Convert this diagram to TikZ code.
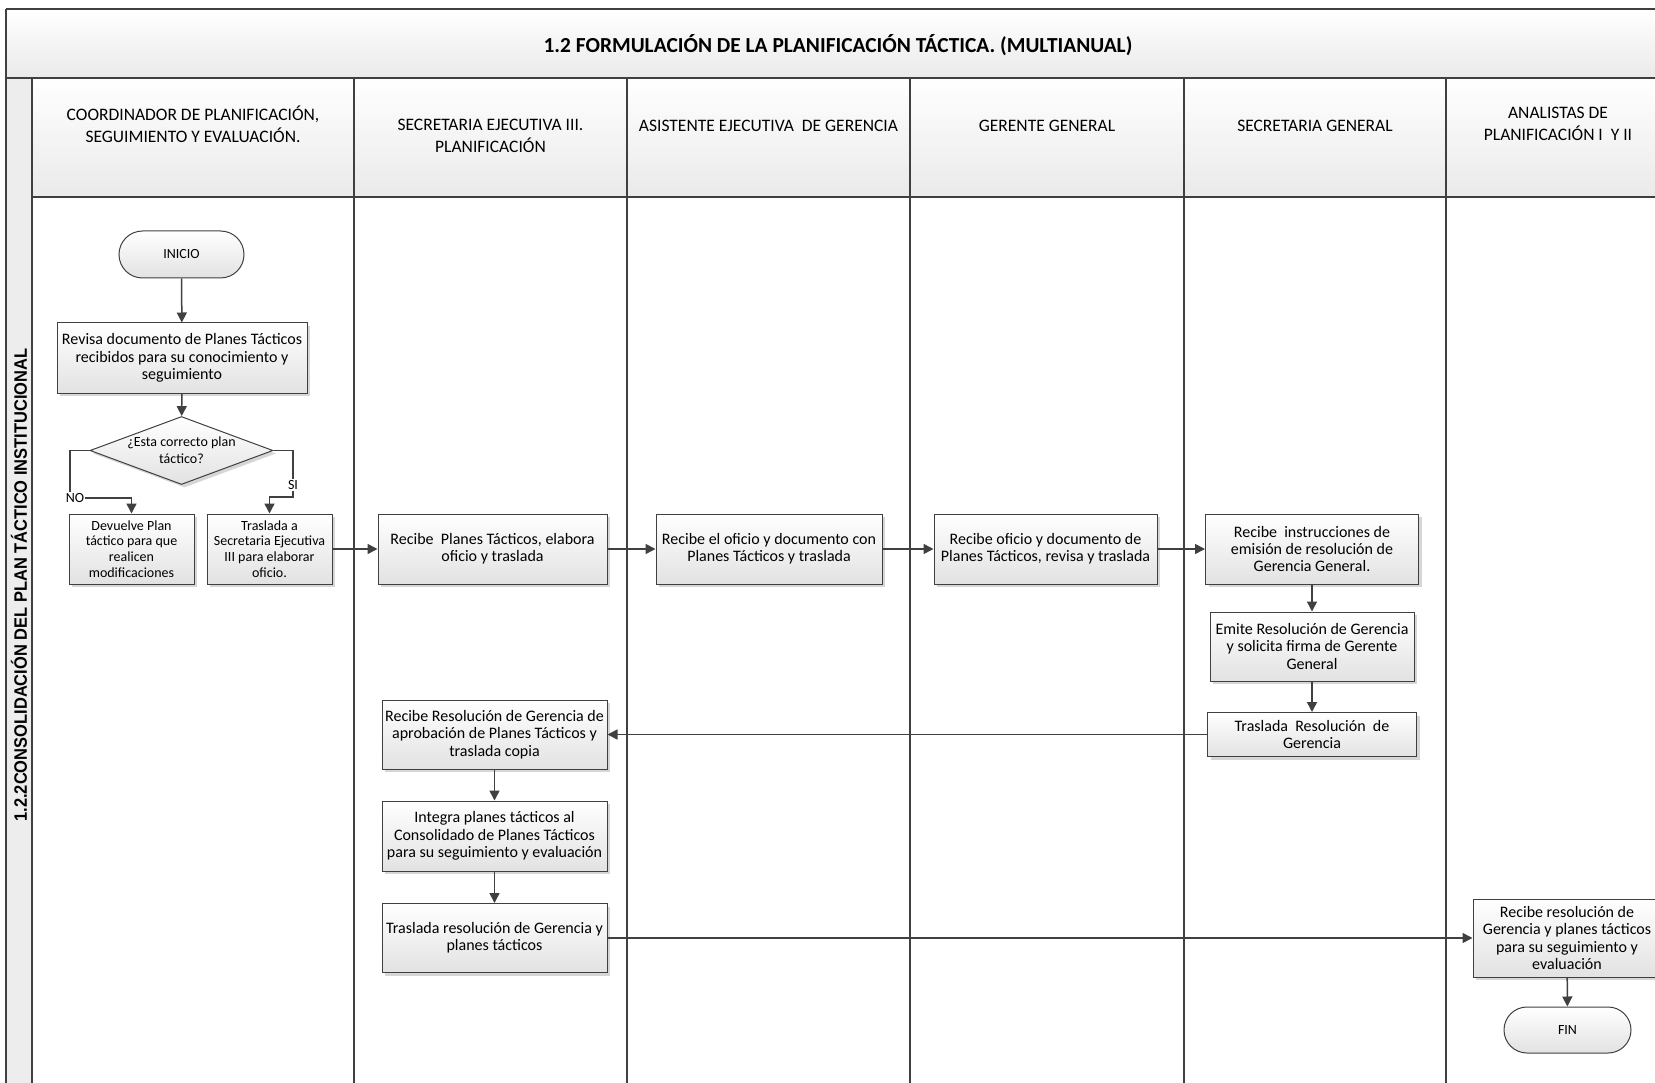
\documentclass[tikz,border=0pt]{standalone}
\usepackage{fontspec}
\usepackage{graphicx}
\setmainfont{Carlito}
\newfontfamily\vfont{Liberation Sans}
\usetikzlibrary{arrows.meta,shapes.geometric,shapes.misc,shadows}
\definecolor{linec}{HTML}{404040}
\definecolor{boxb}{HTML}{E2E2E2}
\definecolor{hdrb}{HTML}{EAEAEA}
\begin{document}
\begin{tikzpicture}[x=1pt,y=-1pt,
  lane/.style={draw=linec, line width=1.3pt},
  proc/.style={draw=linec, line width=1pt, top color=white, bottom color=boxb,
    drop shadow={fill=black!35, opacity=0.45, shadow xshift=3pt, shadow yshift=-3pt},
    align=center, inner sep=1pt, text=black},
  big/.style={font=\fontsize{16}{17.4}\selectfont},
  small/.style={font=\fontsize{14}{15.7}\selectfont},
  term/.style={rounded rectangle, draw=linec, line width=1pt, top color=white, bottom color=boxb,
    font=\fontsize{14}{16}\selectfont, minimum width=125pt, minimum height=47pt, inner sep=0pt},
  decis/.style={diamond, draw=linec, line width=1pt, top color=white, bottom color=boxb,
    drop shadow={fill=black!35, opacity=0.45, shadow xshift=3pt, shadow yshift=-3pt},
    minimum width=183pt, minimum height=68pt, inner sep=0pt},
  arr/.style={draw=linec, line width=1.5pt, -{Triangle[length=10pt,width=10pt]}},
  hdr/.style={align=center, font=\fontsize{17.5}{22}\selectfont},
  lbl/.style={fill=white, inner sep=1pt, font=\fontsize{14}{16}\selectfont}
]
\useasboundingbox (0,0) rectangle (1655,1083);
\clip (0,0) rectangle (1655,1083);
\fill[white] (0,0) rectangle (1655,1083);
% title band
\shade[top color=white, bottom color=hdrb] (6,9) rectangle (1680,78);
% left strip
\fill[hdrb!85!white] (6,78) rectangle (32,1100);
% header band
\shade[top color=white, bottom color=hdrb] (32,78) rectangle (1680,197);
\draw[lane] (6,9) -- (1680,9);
\draw[lane] (6,9) -- (6,1100);
\draw[lane] (6,78) -- (1680,78);
\draw[lane] (32,197) -- (1680,197);
\foreach \x in {32,354,627,910,1184,1446} \draw[lane] (\x,78) -- (\x,1100);

\node[font=\fontsize{21.4}{24}\selectfont\bfseries] (title) at (838,45)
  {1.2 FORMULACIÓN DE LA PLANIFICACIÓN TÁCTICA. (MULTIANUAL)};
\node[rotate=90, font=\vfont\bfseries\fontsize{18}{20}\selectfont] (vt) at (19,585)
  {\scalebox{0.915}[1]{1.2.2CONSOLIDACIÓN DEL PLAN TÁCTICO INSTITUCIONAL}};

\node[hdr] (h1) at (193,124) {COORDINADOR DE PLANIFICACIÓN,\\SEGUIMIENTO Y EVALUACIÓN.};
\node[hdr] (h2) at (490.5,135.6) {SECRETARIA EJECUTIVA III.\\PLANIFICACIÓN};
\node[hdr] (h3) at (768.5,125.6) {ASISTENTE EJECUTIVA\ \ DE GERENCIA};
\node[hdr] (h4) at (1047,125.6) {GERENTE GENERAL};
\node[hdr] (h5) at (1315,125.6) {SECRETARIA GENERAL};
\node[hdr] (h6) at (1558,124) {ANALISTAS DE\\PLANIFICACIÓN I\ \ Y II};

% lane 1
\node[term] (inicio) at (181.5,254.5) {INICIO};
\node[proc,big,minimum width=250pt,minimum height=70pt] (revisa) at (182,358)
  {Revisa documento de Planes Tácticos\\recibidos para su conocimiento y\\seguimiento};
\node[decis] (dec) at (181.5,450.5) {};
\node[align=center, font=\fontsize{14}{17}\selectfont] (dect) at (181.5,450.5) {¿Esta correcto plan\\táctico?};
\node[proc,small,minimum width=125pt,minimum height=70pt] (devuelve) at (131.5,549)
  {Devuelve Plan\\táctico para que\\realicen\\modificaciones};
\node[proc,small,minimum width=125pt,minimum height=70pt] (trasa) at (269.5,549)
  {Traslada a\\Secretaria Ejecutiva\\III para elaborar\\oficio.};

% lane 2
\node[proc,big,minimum width=229pt,minimum height=70pt] (recp) at (492.5,549)
  {Recibe\ \ Planes Tácticos, elabora\\oficio y traslada};
\node[proc,big,minimum width=225pt,minimum height=69pt] (recres) at (494.5,734.5)
  {Recibe Resolución de Gerencia de\\aprobación de Planes Tácticos y\\traslada copia};
\node[proc,big,minimum width=225pt,minimum height=70pt] (integra) at (494.5,836)
  {Integra planes tácticos al\\Consolidado de Planes Tácticos\\para su seguimiento y evaluación};
\node[proc,big,minimum width=225pt,minimum height=69pt] (trasfin) at (494.5,938)
  {Traslada resolución de Gerencia y\\planes tácticos};

% lane 3
\node[proc,big,minimum width=226pt,minimum height=70pt] (recof) at (769,549)
  {Recibe el oficio y documento con\\Planes Tácticos y traslada};
% lane 4
\node[proc,big,minimum width=223pt,minimum height=70pt] (recdoc) at (1045.5,549)
  {Recibe oficio y documento de\\Planes Tácticos, revisa y traslada};
% lane 5
\node[proc,big,minimum width=213pt,minimum height=70pt] (recinst) at (1312,549)
  {Recibe\ \ instrucciones de\\emisión de resolución de\\Gerencia General.};
\node[proc,big,minimum width=204pt,minimum height=69pt] (emite) at (1312,646.5)
  {Emite Resolución de Gerencia\\y solicita firma de Gerente\\General};
\node[proc,big,minimum width=209pt,minimum height=44pt] (trasres) at (1312,734.5)
  {Traslada\ \ Resolución\ \ de\\Gerencia};
% lane 6
\node[proc,big,minimum width=188pt,minimum height=78pt] (anrec) at (1567,938)
  {Recibe resolución de\\Gerencia y planes tácticos\\para su seguimiento y\\evaluación};
\node[term,minimum width=127pt,minimum height=46pt] (fin) at (1567.5,1030) {FIN};

% connectors
\draw[arr] (inicio) -- (revisa);
\draw[arr] (revisa) -- (dec);
\coordinate (noc) at (70,498);
\coordinate (sic) at (293,497);
\draw[arr] (dec.west) -| (noc) -| (devuelve.north);
\node[lbl] (nolbl) at (75,498) {NO};
\draw[arr] (dec.east) -| (sic) -| (trasa.north);
\node[lbl] (silbl) at (293,485) {SI};
\draw[arr] (trasa) -- (recp);
\draw[arr] (recp) -- (recof);
\draw[arr] (recof) -- (recdoc);
\draw[arr] (recdoc) -- (recinst);
\draw[arr] (recinst) -- (emite);
\draw[arr] (emite) -- (trasres);
\draw[arr] (trasres) -- (recres);
\draw[arr] (recres) -- (integra);
\draw[arr] (integra) -- (trasfin);
\draw[arr] (trasfin) -- (anrec);
\draw[arr] (anrec) -- (fin);
\end{tikzpicture}
\end{document}
